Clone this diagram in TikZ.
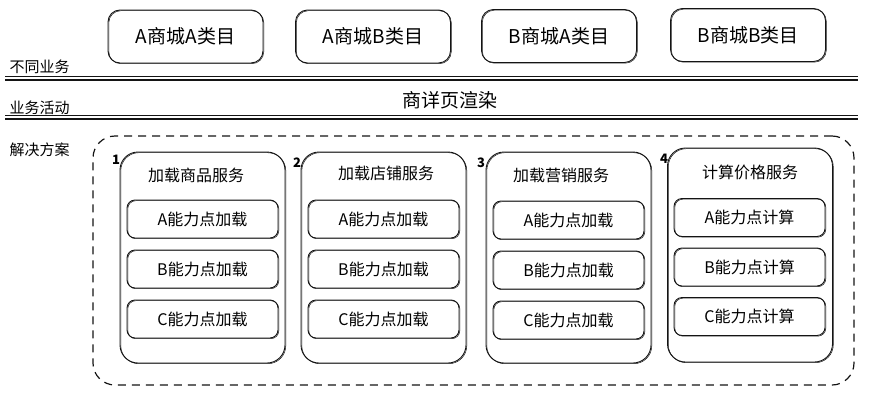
\documentclass[tikz,border=0pt]{standalone}
\usepackage{fontspec}
\setmainfont{Noto Sans CJK SC}
\usepackage{xcolor}
\usepackage{tikz}
\usetikzlibrary{positioning}
\definecolor{skink}{RGB}{20,20,20}

\begin{document}
\begin{tikzpicture}[
  x=1pt, y=-1pt,
  every node/.style={text=black},
  sketch/.style={draw=skink, line width=0.9pt, rounded corners=#1,
                 preaction={draw=skink, line width=0.5pt,
                            transform canvas={shift={(0.8pt,-0.7pt)}}}},
  biz/.style={sketch=12pt, minimum width=155pt, minimum height=53pt,
              font=\fontsize{19}{22}\selectfont},
  svc/.style={sketch=18pt, minimum width=165pt, minimum height=211pt},
  capbox/.style={sketch=8pt, minimum width=151pt, minimum height=38pt,
              font=\fontsize{16}{19}\selectfont},
  lane/.style={anchor=west, font=\fontsize{15}{18}\selectfont},
  svchead/.style={font=\fontsize{16}{19}\selectfont},
  num/.style={font=\bfseries\fontsize{13}{15}\selectfont},
  lanerule/.style={draw=skink, line width=1.1pt},
]
\useasboundingbox (0,0) rectangle (870,394);

% Lanes
\node[lane] (l1) at (6, 67)  {不同业务};
\node[lane] (l2) at (6, 108) {业务活动};
\node[lane] (l3) at (6, 150) {解决方案};

% ── Business row ──
\node[biz] (b1) at (185.5,36.5) {A商城A类目};
\node[biz] (b2) at (373,  36.5) {A商城B类目};
\node[biz] (b3) at (559,  36)   {B商城A类目};
\node[biz] (b4) at (748,  35)   {B商城B类目};

% lane rules
\draw[lanerule] (5,76.5) -- (858,76.5);
\draw[lanerule] (5,80)   -- (858,80);
\draw[lanerule] (5,115.5)-- (858,115.5);
\draw[lanerule] (5,119)  -- (858,119);

\node[font=\fontsize{19}{22}\selectfont] (act) at (450,100) {商详页渲染};

% ── Solution ──
\node[draw=skink, line width=1.2pt, dash pattern=on 8pt off 6pt,
      rounded corners=22pt, minimum width=761pt, minimum height=249pt]
      (sol) at (473.5,260.5) {};

% Services
\node[svc] (s1) at (202.5,257.5) {};
\node[svc] (s2) at (383.5,257.5) {};
\node[svc] (s3) at (568.5,257.5) {};
\node[svc, minimum height=214pt] (s4) at (750,255) {};

\node[num] (n1) at (116,160) {1};
\node[num] (n2) at (297,163) {2};
\node[num] (n3) at (481,163) {3};
\node[num] (n4) at (664,159) {4};

\node[svchead] (h1) at (196,175) {加载商品服务};
\node[svchead] (h2) at (386,173) {加载店铺服务};
\node[svchead] (h3) at (561,175) {加载营销服务};
\node[svchead] (h4) at (750,172) {计算价格服务};

% Capability points
\node[capbox] (c1a) at (202.5,219) {A能力点加载};
\node[capbox] (c1b) at (202.5,269) {B能力点加载};
\node[capbox] (c1c) at (202.5,319) {C能力点加载};

\node[capbox] (c2a) at (383.5,219) {A能力点加载};
\node[capbox] (c2b) at (383.5,269) {B能力点加载};
\node[capbox] (c2c) at (383.5,319) {C能力点加载};

\node[capbox] (c3a) at (568.5,220) {A能力点加载};
\node[capbox] (c3b) at (568.5,270) {B能力点加载};
\node[capbox] (c3c) at (568.5,320) {C能力点加载};

\node[capbox] (c4a) at (749.5,217.5) {A能力点计算};
\node[capbox] (c4b) at (749.5,267)   {B能力点计算};
\node[capbox] (c4c) at (749.5,316.5) {C能力点计算};

\end{tikzpicture}
\end{document}
